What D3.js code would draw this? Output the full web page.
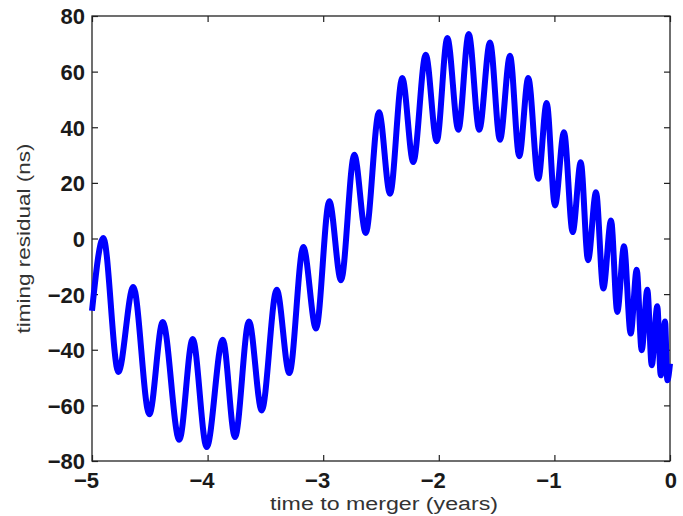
<!DOCTYPE html>
<html>
<head>
    <script src="https://cdnjs.cloudflare.com/ajax/libs/d3/7.8.5/d3.min.js"></script>
    <style>
        body { margin: 0; background: #fff; }
        .tick text {
            font-family: "Liberation Sans", Arial, Helvetica, sans-serif;
            font-size: 22px;
            font-weight: bold;
            fill: #1a1a1a;
        }
        .tick line { stroke: #222; stroke-width: 1.2px; }
        .label {
            font-family: "Liberation Sans", Arial, Helvetica, sans-serif;
            font-size: 18px;
            fill: #333;
        }
    </style>
</head>
<body>
    <div id="chart"></div>
    <script>
        // peaks and troughs (years before merger, ns)
        const times = [-5.000, -4.902, -4.772, -4.643, -4.504, -4.388, -4.245, -4.129, -4.008,
            -3.869, -3.763, -3.642, -3.532, -3.402, -3.293, -3.172, -3.062, -2.947, -2.846,
            -2.731, -2.632, -2.517, -2.422, -2.316, -2.221, -2.113, -2.018, -1.926, -1.831,
            -1.741, -1.650, -1.557, -1.471, -1.384, -1.304, -1.226, -1.139, -1.067, -0.995,
            -0.917, -0.842, -0.772, -0.709, -0.640, -0.577, -0.510, -0.456, -0.398, -0.340,
            -0.288, -0.245, -0.196, -0.158, -0.110, -0.080, -0.043, -0.023, 0.000];
        const residuals = [-26, 0.2, -48, -17.4, -63.2, -30, -72.4, -36.1, -75,
            -36.4, -71.4, -29.8, -61.8, -18.4, -48.4, -3.1, -32.4, 13.4, -15,
            30.1, 2, 45.4, 16.1, 57.7, 27.5, 66.1, 35, 72.1, 39.1,
            73.5, 39.1, 70.5, 35.5, 65.7, 29.6, 57.7, 21.5, 48.7, 11.9,
            38.2, 2.3, 27.4, -7.8, 16.6, -18, 6.5, -26.4, -2.8, -34.2,
            -11.2, -40.2, -18.4, -45.6, -24.4, -49.2, -29.8, -51, -45];

        const xTicks = [-5, -4, -3, -2, -1, 0];
        const yTicks = [-80, -60, -40, -20, 0, 20, 40, 60, 80];

        const W = 683, H = 516;
        const margin = { left: 92, top: 16, right: 13, bottom: 55 };
        const w = W - margin.left - margin.right;
        const h = H - margin.top - margin.bottom;

        const svg = d3.select("#chart").append("svg").attr("width", W).attr("height", H);
        const g = svg.append("g").attr("transform", `translate(${margin.left},${margin.top})`);

        const x = d3.scaleLinear().domain([-5, 0]).range([0, w]);
        const y = d3.scaleLinear().domain([-80, 80]).range([h, 0]);

        const fmt = d => d < 0 ? "\u2212" + Math.abs(d) : String(d);

        // bottom axis with labels, ticks pointing inward
        const xb = g.append("g").attr("transform", `translate(0,${h})`)
            .call(d3.axisBottom(x).tickValues(xTicks).tickSizeInner(-6).tickSizeOuter(0).tickFormat(fmt));
        xb.selectAll("text").attr("text-anchor", "end").attr("x", 6.5).attr("y", 27).attr("dy", null);

        const yl = g.append("g")
            .call(d3.axisLeft(y).tickValues(yTicks).tickSizeInner(-6).tickSizeOuter(0).tickFormat(fmt));
        yl.selectAll("text").attr("x", -7).attr("dy", "0.36em");

        // mirrored ticks top and right
        g.append("g").call(d3.axisTop(x).tickValues(xTicks).tickSizeInner(-6).tickSizeOuter(0).tickFormat(""));
        g.append("g").attr("transform", `translate(${w},0)`)
            .call(d3.axisRight(y).tickValues(yTicks).tickSizeInner(-6).tickSizeOuter(0).tickFormat(""));

        g.selectAll(".domain").remove();
        g.append("rect").attr("width", w).attr("height", h)
            .attr("fill", "none").attr("stroke", "#222").attr("stroke-width", 1.3);

        const line = d3.line()
            .x((d, i) => x(times[i]))
            .y(d => y(d))
            .curve(d3.curveMonotoneX);

        g.append("path")
            .datum(residuals)
            .attr("d", line)
            .attr("fill", "none")
            .attr("stroke", "#0000ff")
            .attr("stroke-width", 6)
            .attr("stroke-linejoin", "round");

        svg.append("text").attr("class", "label")
            .attr("x", margin.left + w / 2 + 3).attr("y", 510)
            .attr("text-anchor", "middle")
            .attr("textLength", 228).attr("lengthAdjust", "spacingAndGlyphs")
            .text("time to merger (years)");

        svg.append("text").attr("class", "label")
            .attr("transform", `translate(30,${margin.top + h / 2}) rotate(-90)`)
            .attr("text-anchor", "middle")
            .attr("textLength", 190).attr("lengthAdjust", "spacingAndGlyphs")
            .text("timing residual (ns)");
    </script>
</body>
</html>
